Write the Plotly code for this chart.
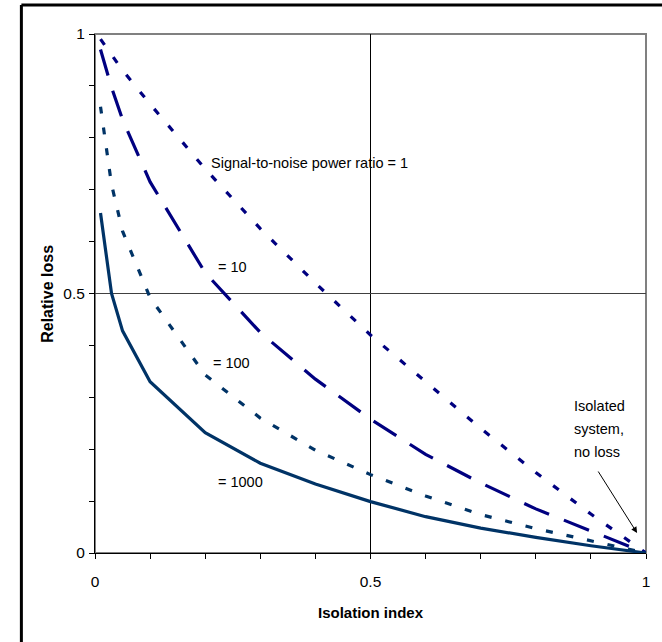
import plotly.graph_objects as go

# ---- data ----
isolation = [0.01, 0.03, 0.05, 0.1, 0.2, 0.3, 0.4, 0.5, 0.6, 0.7, 0.8, 0.9, 1.0]
loss_snr1 = [0.99, 0.96, 0.93, 0.865, 0.74, 0.625, 0.52, 0.42, 0.33, 0.24, 0.155, 0.075, 0.0]
loss_snr10 = [0.97, 0.897, 0.835, 0.715, 0.54, 0.425, 0.335, 0.258, 0.19, 0.135, 0.085, 0.042, 0.0]
loss_snr100 = [0.86, 0.71, 0.62, 0.492, 0.343, 0.26, 0.198, 0.151, 0.11, 0.074, 0.047, 0.023, 0.0]
loss_snr1000 = [0.655, 0.50, 0.428, 0.33, 0.232, 0.173, 0.133, 0.099, 0.07, 0.048, 0.03, 0.014, 0.0]

series = [
    ("SNR = 1", loss_snr1, "#000080", "7px,15px"),
    ("SNR = 10", loss_snr10, "#000080", "27px,16px"),
    ("SNR = 100", loss_snr100, "#003366", "7px,14px"),
    ("SNR = 1000", loss_snr1000, "#003366", "solid"),
]

labels = [
    ("Signal-to-noise power ratio = 1", 0.2076, 0.751),
    ("= 10", 0.219, 0.552),
    ("= 100", 0.211, 0.366),
    ("= 1000", 0.219, 0.137),
]
note_lines = [("Isolated", 0.283), ("system,", 0.239), ("no loss", 0.195)]

FONT = "Liberation Sans, Arial, sans-serif"

fig = go.Figure()
for name, ys, color, dash in series:
    fig.add_trace(go.Scatter(x=isolation, y=ys, mode="lines", name=name,
                             line=dict(color=color, width=3.2, dash=dash),
                             showlegend=False))

for text, x, y in labels:
    fig.add_annotation(x=x, y=y, text=text, showarrow=False, xanchor="left",
                       yanchor="middle", font=dict(family=FONT, size=14.5, color="black"))
for text, y in note_lines:
    fig.add_annotation(x=0.866, y=y, text=text, showarrow=False, xanchor="left",
                       yanchor="middle", font=dict(family=FONT, size=14.5, color="black"))
# arrow
fig.add_annotation(x=0.9838, y=0.0385, ax=0.9116, ay=0.1599, axref="x", ayref="y",
                   text="", showarrow=True, arrowhead=2, arrowsize=1.2, arrowwidth=1,
                   arrowcolor="black")

# axis titles
fig.add_annotation(xref="paper", yref="paper", x=0.5, y=-0.1156, text="<b>Isolation index</b>",
                   showarrow=False, xanchor="center", yanchor="middle",
                   font=dict(family=FONT, size=15, color="black"))
fig.add_annotation(xref="paper", yref="paper", x=-0.0866, y=0.5, text="<b>Relative loss</b>",
                   showarrow=False, xanchor="center", yanchor="middle", textangle=-90,
                   font=dict(family=FONT, size=16, color="black"))

# plot border (gray), gridlines at 0.5, outer frame (top and left edges only visible)
fig.add_shape(type="rect", xref="paper", yref="paper", x0=0, y0=0, x1=1, y1=1,
              line=dict(color="#808080", width=2), layer="below")
fig.add_shape(type="line", xref="x", yref="paper", x0=0.5, x1=0.5, y0=0, y1=1,
              line=dict(color="black", width=1), layer="below")
fig.add_shape(type="line", xref="paper", yref="y", x0=0, x1=1, y0=0.5, y1=0.5,
              line=dict(color="#404040", width=1), layer="below")
fig.add_shape(type="line", xref="paper", yref="paper", x0=-0.1336, y0=1.0558, x1=1.05, y1=1.0558,
              line=dict(color="black", width=3), layer="below")
fig.add_shape(type="line", xref="paper", yref="paper", x0=-0.1336, y0=-0.2, x1=-0.1336, y1=1.0558,
              line=dict(color="black", width=3), layer="below")

axis_common = dict(range=[0, 1], tickvals=[0, 0.5, 1], ticktext=["0", "0.5", "1"],
                   ticks="outside", ticklen=5, tickcolor="black", tickwidth=1,
                   showgrid=False, zeroline=False, showline=True, linecolor="black",
                   linewidth=1, tickfont=dict(family=FONT, size=15.5, color="black"),
                   minor=dict(dtick=0.1, tick0=0, ticks="outside", ticklen=5,
                              tickcolor="black", showgrid=False))

fig.update_xaxes(**axis_common, ticklabelstandoff=9)
fig.update_yaxes(**axis_common, ticklabelstandoff=1)

fig.update_layout(width=662, height=642, margin=dict(l=95, r=13, t=34, b=89),
                  plot_bgcolor="white", paper_bgcolor="white",
                  font=dict(family=FONT, color="black"))

fig.write_html("out.html")
